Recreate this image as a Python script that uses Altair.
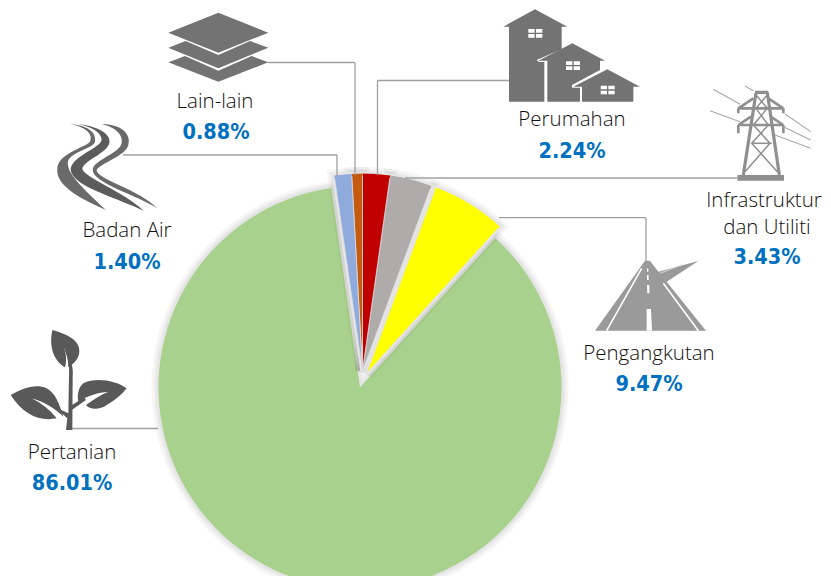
import math
import altair as alt
import pandas as pd

# ---- data -------------------------------------------------------------
categories = ["Perumahan", "Infrastruktur dan Utiliti", "Pengangkutan", "Pertanian", "Badan Air", "Lain-lain"]
pie_shares = [2.24, 3.43, 6.04, 86.01, 1.40, 0.88]
label_values = [2.24, 3.43, 9.47, 86.01, 1.40, 0.88]
slice_colors = ["#c00000", "#afabab", "#ffff00", "#a9d18e", "#8faadc", "#c55a11"]

ends, run = [], 0.0
for v in pie_shares:
    run += v
    ends.append(run)
starts = [e - v for e, v in zip(ends, pie_shares)]
df = pd.DataFrame({"name": categories, "share": pie_shares, "label": label_values,
                   "start": starts, "end": ends})
df["pct"] = df["label"].map(lambda v: f"{v:.2f}%")

W, H = 815, 568
OX, OY = 8, 8   # page margin


def X(v):
    return alt.value(v - OX)


def Y(v):
    return alt.value(v - OY)


layers = []
theta_scale = alt.Scale(domain=[0, 100], range=[0, 2 * math.pi])


def arc_enc(i, cx, cy):
    return dict(x=X(cx), y=Y(cy),
                theta=alt.Theta("start:Q", scale=theta_scale, stack=False),
                theta2=alt.Theta2("end:Q"))


def arc_shadow(i, cx, cy, r):
    for w in (14, 9, 5):
        layers.append(alt.Chart(df.iloc[[i]]).mark_arc(radius=r, filled=False, stroke="#000000", strokeWidth=w,
                                                       opacity=0.035, clip=True).encode(**arc_enc(i, cx, cy)))


def arc_under(i, cx, cy, r):
    layers.append(alt.Chart(df.iloc[[i]]).mark_arc(radius=r, filled=False, stroke="#e6e6e6", strokeWidth=4.5,
                                                   clip=True).encode(**arc_enc(i, cx, cy)))


def arc_fill(i, cx, cy, r, stroke=True):
    kw = dict(stroke="#dcdcdc", strokeWidth=0.8) if stroke else dict(strokeWidth=0)
    layers.append(alt.Chart(df.iloc[[i]]).mark_arc(radius=r, fill=slice_colors[i], clip=True, **kw)
                  .encode(**arc_enc(i, cx, cy)))
    if stroke:
        layers.append(alt.Chart(df.iloc[[i]]).mark_arc(radius=r + 0.4, radius2=r - 2, fill=slice_colors[i],
                                                       strokeWidth=0, clip=True).encode(**arc_enc(i, cx, cy)))


green = (3, 360, 387.5, 201.5)
wedges = [(2, 366.5, 373.5, 198), (1, 362.5, 371, 197), (0, 362.5, 371, 197), (5, 362.5, 371, 197), (4, 362.5, 371, 197)]
arc_shadow(*green)
arc_fill(*green, stroke=False)
for w in wedges:
    arc_shadow(*w)
for w in wedges:
    arc_under(*w)
for w in wedges:
    arc_fill(*w)

# ---- connector lines ---------------------------------------------------
LINE = "#a0a0a0"
hlines = [(268, 355, 62.5), (123, 337, 155), (377.5, 509, 80.5), (405, 737, 178), (499, 646, 217.7), (72, 158, 428.5)]
vlines = [(355, 62.5, 175), (337, 155, 176), (377.5, 80.5, 175), (646, 217.7, 262)]
dummy = pd.DataFrame({"a": [0]})
for x1, x2, y in hlines:
    layers.append(alt.Chart(dummy).mark_rule(color=LINE, strokeWidth=1.3).encode(x=X(x1), x2=X(x2), y=Y(y)))
for x, y1, y2 in vlines:
    layers.append(alt.Chart(dummy).mark_rule(color=LINE, strokeWidth=1.3).encode(x=X(x), y=Y(y1), y2=Y(y2)))


# ---- icons: paths are written in 3x zoomed pixels from an origin -------
def icon(path, ox, oy, fill=None, stroke=None, sw=1.0):
    kw = dict(shape=path, size=4 / 9, opacity=1)
    if fill:
        kw.update(filled=True, fill=fill, strokeWidth=0)
    else:
        kw.update(filled=False, stroke=stroke, strokeWidth=sw)
    layers.append(alt.Chart(dummy).mark_point(**kw).encode(x=X(ox), y=Y(oy)))


# layers
G1 = "#737373"
icon("M655 38L805 98L655 158L505 98Z", 0, 0, G1)
icon("M505 143L557 123L655 165L750 123L805 143L655 205Z", 0, 0, G1)
icon("M505 187L555 168L655 212L755 168L805 187L655 245Z", 0, 0, G1)

# river
G2 = "#5c5c5c"
icon("M208 372C260 375 290 395 285 425C280 445 225 450 205 480C195 510 230 550 318 630C250 600 165 560 172 505C175 460 250 445 270 425C280 405 260 380 208 372Z", 0, 0, "#6a6a6a")
icon("M235 372C300 380 335 405 328 430C320 460 255 480 247 505C245 530 380 580 430 632C370 600 215 560 212 510C212 470 300 445 305 420C305 395 270 380 235 372Z", 0, 0, G2)
icon("M305 372C360 372 395 400 385 435C375 470 300 490 290 510C285 535 420 570 472 625C410 585 280 550 278 510C280 480 360 460 365 430C370 400 340 380 305 372Z", 0, 0, "#6a6a6a")

# houses
icon("M495 28L592 80L575 80L575 148L500 180L507 186L523 186L523 305L417 305L417 80L400 80Z", 370, 0, G1)
icon("M607 130L705 182L690 182L690 210L606 255L606 263L630 263L630 305L532 305L532 182L505 182Z", 370, 0, G1)
icon("M712 208L810 260L790 260L790 305L636 305L636 260L610 260Z", 370, 0, G1)
for wx, wy in ((475, 87), (588, 184), (692, 257)):
    icon(f"M{wx} {wy}h19v11h-19ZM{wx + 23} {wy}h19v11h-19ZM{wx} {wy + 15}h19v11h-19ZM{wx + 23} {wy + 15}h19v11h-19Z", 370, 0, "#ffffff")

# pylon
G3 = "#8f8f8f"
icon("M1102 525H1242V542H1102Z", 370, 0, G3)
icon("M1158 278L1120 525M1192 278L1228 525M1155 277H1195", 370, 0, stroke=G3, sw=3.2)
icon("M1105 325H1240M1150 295L1105 325M1195 295L1240 325M1105 375H1240M1143 350L1105 375M1202 350L1240 375M1105 325V340M1240 325V340M1105 375V400M1240 375V400", 370, 0, stroke=G3, sw=2.6)
icon("M1158 285L1192 325L1150 375L1200 430L1125 515M1192 285L1158 325L1195 375L1145 430L1222 515M1145 430H1205M1150 375H1195M1155 325H1195", 370, 0, stroke=G3, sw=1.5)
icon("M1030 268L1110 313M1020 332L1110 365M1125 258L1150 272M1245 342L1322 395M1240 380L1322 420M1215 405L1322 445", 370, 0, stroke="#a8a8a8", sw=1.1)

# road
G4 = "#9a9a9a"
icon("M225 62L240 62L265 95L385 63L290 125L408 272L75 272Z", 570, 240, G4)
icon("M215 85L110 272M280 130L385 272", 570, 240, stroke="#ffffff", sw=1.6)
icon("M230 207H243L246 272H230ZM231 135H238L238 160H232ZM231 105H236V120H231ZM231 85H235V95H231Z", 570, 240, "#ffffff")
icon("M270 100L340 72", 570, 240, stroke="#e8e8e8", sw=0.8)

# plant
G5 = "#595959"
icon("M157 30C200 42 240 60 238 95C236 120 218 132 205 142C205 115 200 95 190 80C200 100 200 125 195 142C165 125 145 85 157 30Z", 0, 320, G5)
icon("M32 225C70 205 105 190 140 205C165 218 178 250 190 290C165 265 130 245 95 235C125 250 150 270 170 295C120 305 70 285 32 225Z", 0, 320, G5)
icon("M380 205C345 180 285 172 250 190C232 205 232 230 235 245C265 225 295 218 325 215C300 225 280 240 258 255C270 270 300 270 320 255C345 240 365 225 380 205Z", 0, 320, G5)
icon("M190 80C207 105 222 135 218 170L217 330L198 330L202 295L165 262L205 280L207 170C210 135 203 110 190 80Z", 0, 320, G5)
icon("M212 258L252 232L258 240L212 272Z", 0, 320, G5)


# ---- labels ------------------------------------------------------------
def name_text(txt, cx, base):
    layers.append(alt.Chart(dummy).mark_text(font="Open Sans", fontWeight=300, fontSize=20.5, color="#111111",
                                             align="center", baseline="alphabetic", text=txt).encode(x=X(cx), y=Y(base)))


def pct_text(i, cx, base):
    layers.append(alt.Chart(df.iloc[[i]]).mark_text(font="DejaVu Sans Condensed", fontWeight="bold", fontSize=21.5,
                                                    color="#0070c0", align="center", baseline="alphabetic")
                  .encode(x=X(cx), y=Y(base), text="pct:N"))


name_text("Perumahan", 572, 126)
pct_text(0, 572, 158)
name_text("Infrastruktur", 764, 207)
name_text("dan Utiliti", 767, 234)
pct_text(1, 767, 264)
name_text("Pengangkutan", 649, 360)
pct_text(2, 649, 391)
name_text("Pertanian", 72, 459)
pct_text(3, 72, 490)
name_text("Badan Air", 127, 237)
pct_text(4, 127, 269)
name_text("Lain-lain", 215, 108)
pct_text(5, 216, 139)

chart = alt.layer(*layers).properties(width=W, height=H, padding=0,
                                      autosize=alt.AutoSizeParams(type="none"),
                                      background="#ffffff").configure_view(stroke=None)
chart.save("out.html", embed_options={"renderer": "svg", "actions": False})
